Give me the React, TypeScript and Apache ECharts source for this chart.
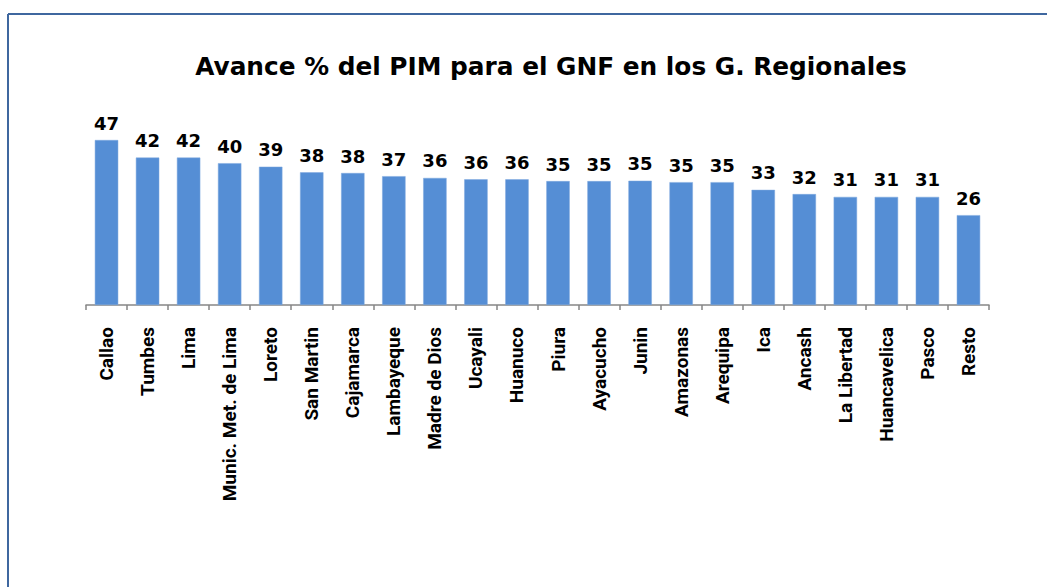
import React, { useEffect, useRef } from "react";
import * as echarts from "echarts";

const titleText = "Avance % del PIM para el GNF en los G. Regionales";

const categories = [
  "Callao", "Tumbes", "Lima", "Munic. Met. de Lima", "Loreto", "San Martin",
  "Cajamarca", "Lambayeque", "Madre de Dios", "Ucayali", "Huanuco", "Piura",
  "Ayacucho", "Junin", "Amazonas", "Arequipa", "Ica", "Ancash", "La Libertad",
  "Huancavelica", "Pasco", "Resto",
];

const avance = [
  47.0, 42.0, 42.0, 40.4, 39.4, 37.8, 37.6, 36.7, 36.2, 35.8, 35.8, 35.3,
  35.3, 35.4, 35.0, 35.0, 32.8, 31.6, 30.8, 30.8, 30.8, 25.6,
];

export default function App() {
  const ref = useRef<HTMLDivElement>(null);

  useEffect(() => {
    if (!ref.current) return;
    const chart = echarts.init(ref.current, null, { renderer: "svg" });
    chart.setOption({
      animation: false,
      backgroundColor: "#ffffff",
      title: {
        text: titleText,
        left: 546,
        top: 49,
        textAlign: "center",
        textStyle: {
          fontFamily: "DejaVu Sans",
          fontWeight: "bold",
          fontSize: 24.8,
          color: "#000000",
        },
      },
      graphic: [
        {
          type: "line",
          shape: { x1: 8, y1: 14, x2: 1047, y2: 14 },
          style: { stroke: "#3f679f", lineWidth: 2 },
        },
        {
          type: "line",
          shape: { x1: 8, y1: 14, x2: 8, y2: 587 },
          style: { stroke: "#3f679f", lineWidth: 2 },
        },
      ],
      grid: { left: 86, right: 58, top: 129.5, bottom: 282 },
      xAxis: {
        type: "category",
        data: categories,
        axisLine: { lineStyle: { color: "#868686", width: 1.5 } },
        axisTick: { show: true, length: 5, lineStyle: { color: "#868686", width: 1.5 } },
        axisLabel: {
          rotate: 90,
          interval: 0,
          margin: 22,
          fontFamily: "Roboto",
          fontWeight: "bold",
          fontSize: 19,
          color: "#000000",
        },
      },
      yAxis: {
        type: "value",
        min: 0,
        max: 50,
        show: false,
        splitLine: { show: false },
      },
      series: [
        {
          type: "bar",
          data: avance,
          barCategoryGap: "43%",
          itemStyle: { color: "#558ed5", borderColor: "#7fa9df", borderWidth: 0.5 },
          label: {
            show: true,
            position: "top",
            distance: 8,
            formatter: (p: any) => String(Math.round(p.value)),
            fontFamily: "DejaVu Sans",
            fontWeight: "bold",
            fontSize: 18,
            color: "#000000",
          },
        },
      ],
    });
    return () => chart.dispose();
  }, []);

  return (
    <div
      ref={ref}
      style={{ position: "fixed", left: 0, top: 0, width: 1047, height: 587 }}
    />
  );
}
